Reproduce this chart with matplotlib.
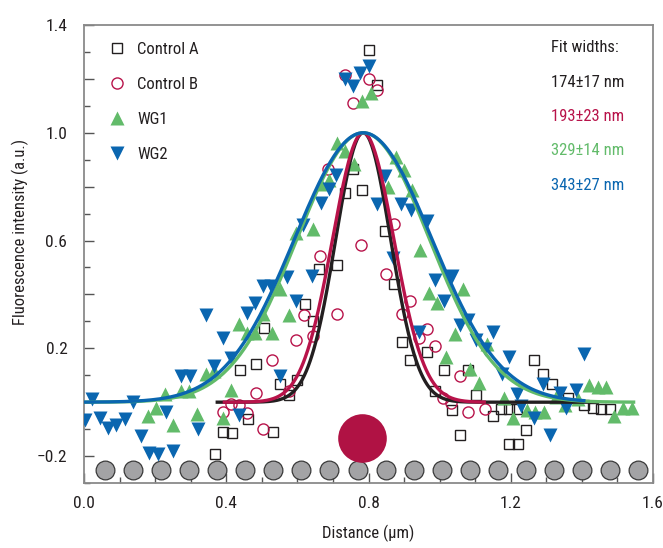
import numpy as np
import matplotlib
matplotlib.use('Agg')
import matplotlib.pyplot as plt
from matplotlib.lines import Line2D
from matplotlib.ticker import MultipleLocator

plt.rcParams['font.family'] = ['Roboto Condensed', 'Liberation Sans Narrow',
                               'Liberation Sans', 'DejaVu Sans']

# data (distance in um, intensity in a.u.)
ctrl_a_x = [0.369, 0.392, 0.415, 0.440, 0.461, 0.484, 0.505, 0.530, 0.551, 0.575,
            0.598, 0.620, 0.645, 0.662, 0.711, 0.734, 0.757, 0.781, 0.801, 0.825,
            0.846, 0.871, 0.894, 0.918, 0.965, 0.988, 1.011, 1.034, 1.056, 1.081,
            1.103, 1.150, 1.172, 1.195, 1.218, 1.243, 1.195, 1.219, 1.266, 1.291,
            1.315, 1.360, 1.406, 1.430, 1.454, 1.478]
ctrl_a_y = [-0.191, -0.110, -0.116, 0.121, -0.064, 0.141, 0.277, -0.110, 0.067, 0.026,
            0.084, 0.364, 0.303, 0.493, 0.509, 0.776, 0.867, 0.789, 1.307, 1.179,
            0.637, 0.438, 0.225, 0.156, 0.185, 0.043, 0.118, -0.030, -0.120, 0.119,
            0.025, -0.050, -0.025, -0.025, -0.025, -0.105, -0.155, -0.155, 0.157, 0.105,
            0.067, 0.016, -0.012, -0.020, -0.025, -0.027]

ctrl_b_x = [0.390, 0.413, 0.437, 0.459, 0.484, 0.504, 0.528, 0.575, 0.596, 0.619,
            0.644, 0.663, 0.687, 0.711, 0.734, 0.756, 0.780, 0.802, 0.825, 0.849,
            0.872, 0.894, 0.918, 0.941, 0.965, 0.986, 1.009, 1.032, 1.057, 1.080,
            1.127]
ctrl_b_y = [-0.037, -0.006, -0.010, -0.042, 0.034, -0.098, 0.158, 0.042, 0.229, 0.323,
            0.247, 0.542, 0.864, 0.328, 1.216, 1.111, 0.583, 1.201, 1.158, 0.477,
            0.662, 0.328, 0.374, 0.240, 0.272, 0.209, 0.016, -0.003, 0.097, -0.037,
            -0.027]

wg1_x = [0.180, 0.203, 0.227, 0.249, 0.272, 0.295, 0.319, 0.343, 0.366, 0.390,
         0.413, 0.435, 0.457, 0.481, 0.504, 0.528, 0.551, 0.575, 0.596, 0.644,
         0.667, 0.690, 0.712, 0.734, 0.760, 0.781, 0.806, 0.856, 0.877, 0.899,
         0.922, 0.944, 0.970, 0.993, 1.017, 1.043, 1.065, 1.085, 1.112, 1.133,
         1.180, 1.207, 1.245, 1.269, 1.293, 1.328, 1.352, 1.390, 1.420, 1.446,
         1.469, 1.490, 1.515, 1.540]
wg1_y = [-0.050, -0.022, 0.029, -0.084, 0.041, 0.041, -0.045, 0.104, 0.116, -0.060,
         0.047, 0.292, 0.255, 0.256, 0.328, 0.258, 0.421, 0.322, 0.627, 0.641,
         0.810, 0.825, 0.962, 0.934, 0.885, 1.117, 1.148, 0.797, 0.909, 0.862,
         0.789, 0.566, 0.406, 0.369, 0.167, 0.252, 0.419, 0.125, 0.070, 0.215,
         0.015, -0.060, -0.030, -0.035, -0.035, 0.020, -0.010, 0.012, 0.062, 0.055,
         0.058, -0.050, -0.020, -0.020]

wg2_x = [0.003, 0.022, 0.045, 0.068, 0.090, 0.114, 0.137, 0.160, 0.184, 0.207,
         0.230, 0.251, 0.274, 0.297, 0.321, 0.343, 0.366, 0.390, 0.413, 0.435,
         0.457, 0.481, 0.503, 0.527, 0.550, 0.572, 0.596, 0.615, 0.640, 0.666,
         0.688, 0.709, 0.734, 0.756, 0.776, 0.801, 0.824, 0.847, 0.869, 0.891,
         0.919, 0.941, 0.965, 0.988, 1.013, 1.034, 1.058, 1.080, 1.103, 1.128,
         1.151, 1.175, 1.195, 1.218, 1.230, 1.265, 1.290, 1.310, 1.337, 1.355,
         1.382, 1.405]
wg2_y = [-0.067, 0.010, -0.060, -0.095, -0.083, -0.063, 0.000, -0.126, -0.188, -0.194,
         -0.038, -0.182, 0.097, 0.097, -0.100, 0.324, 0.135, 0.237, 0.164, -0.046,
         0.330, 0.369, 0.432, 0.431, 0.097, 0.463, 0.375, 0.656, 0.468, 0.740,
         0.793, 0.845, 1.198, 1.173, 1.223, 1.248, 0.734, 0.839, 0.536, 0.734,
         0.715, 0.262, 0.672, 0.452, 0.375, 0.470, 0.287, 0.306, 0.231, 0.197,
         0.260, 0.105, 0.168, 0.029, -0.016, -0.060, 0.068, -0.120, 0.035, -0.023,
         0.047, 0.178]

# gaussian fits: centre, sigma, drawn range
fit_center = [0.785, 0.785, 0.785, 0.785]
fit_sigma = [0.077, 0.086, 0.186, 0.193]
fit_start = [0.37, 0.39, 0.0, 0.0]
fit_end = [1.42, 1.13, 1.55, 1.41]
fit_labels = ['174\u00b117 nm', '193\u00b123 nm', '329\u00b114 nm', '343\u00b127 nm']

series_names = ['Control A', 'Control B', 'WG1', 'WG2']
colors = ['#231f20', '#b8134a', '#62bb6a', '#0a66b0']

# beads along the bottom and the focal spot
bead_x = [0.058, 0.137, 0.216, 0.295, 0.374, 0.453, 0.532, 0.611, 0.690, 0.769,
          0.848, 0.927, 1.006, 1.085, 1.164, 1.243, 1.322, 1.401, 1.480, 1.559]
bead_y = [-0.25] * len(bead_x)
spot_x = [0.782]
spot_y = [-0.134]

fig = plt.figure(figsize=(6.63, 5.48), dpi=100)
ax = fig.add_axes([0.1267, 0.1186, 0.8583, 0.8358])

ax.plot(bead_x, bead_y, 'o', ms=13.5, mfc='#a3a3a5', mec='#3a3a3a', mew=0.9, zorder=2)
ax.plot(spot_x, spot_y, 'o', ms=35, mfc='#b01244', mec='none', zorder=2)

ax.plot(ctrl_a_x, ctrl_a_y, 's', ms=7.2, mfc='none', mec=colors[0], mew=1.0, zorder=3)
ax.plot(ctrl_b_x, ctrl_b_y, 'o', ms=8, mfc='none', mec=colors[1], mew=1.0, zorder=3)
ax.plot(wg1_x, wg1_y, '^', ms=9.5, color=colors[2], mec='none', zorder=3)
ax.plot(wg2_x, wg2_y, 'v', ms=9.5, color=colors[3], mec='none', zorder=3)

for c, s, x0, x1, col in zip(fit_center, fit_sigma, fit_start, fit_end, colors):
    xx = np.linspace(x0, x1, 400)
    ax.plot(xx, np.exp(-(xx - c) ** 2 / (2 * s ** 2)), color=col, lw=2.4,
            solid_capstyle='butt', zorder=4)

ax.set_xlim(0, 1.6)
ax.set_ylim(-0.3, 1.4)

ax.xaxis.set_minor_locator(MultipleLocator(0.1))
ax.yaxis.set_minor_locator(MultipleLocator(0.1))
ax.set_xticks(np.arange(0, 1.61, 0.2))
ax.set_xticklabels(['0.0', '', '0.4', '', '0.8', '', '1.2', '', '1.6'])
ax.set_yticks(np.arange(-0.2, 1.41, 0.2))
ax.set_yticklabels(['\u22120.2', '', '0.2', '', '0.6', '', '1.0', '', '1.4'])

ax.tick_params(which='both', direction='in', colors='#555555', labelcolor='#231f20',
               labelsize=12.5, top=False, right=False)
ax.tick_params(which='major', length=7, width=1)
ax.tick_params(which='minor', length=4, width=1)
ax.tick_params(axis='x', pad=9)
ax.tick_params(axis='y', pad=12)
for sp in ax.spines.values():
    sp.set_color('#8a8a8a')
    sp.set_linewidth(1.3)

ax.set_xlabel('Distance (\u03bcm)', fontsize=12, color='#231f20', labelpad=10)
ax.set_ylabel('Fluorescence intensity (a.u.)', fontsize=12, color='#231f20')
ax.yaxis.set_label_coords(-0.097, 0.548)

handles = [
    Line2D([], [], ls='none', marker='s', ms=7.2, mfc='none', mec=colors[0], mew=1.0),
    Line2D([], [], ls='none', marker='o', ms=8, mfc='none', mec=colors[1], mew=1.0),
    Line2D([], [], ls='none', marker='^', ms=9.5, color=colors[2], mec='none'),
    Line2D([], [], ls='none', marker='v', ms=9.5, color=colors[3], mec='none'),
]
leg = ax.legend(handles, series_names, loc='upper left', bbox_to_anchor=(0.044, 0.963),
                frameon=False, fontsize=12, labelspacing=1.2, handlelength=1.0,
                handletextpad=0.7, borderpad=0, borderaxespad=0)
for t in leg.get_texts():
    t.set_color('#231f20')

ax.text(0.821, 0.95, 'Fit widths:', transform=ax.transAxes, fontsize=12,
        color='#231f20', va='center', ha='left')
for i, (lab, col) in enumerate(zip(fit_labels, colors)):
    ax.text(0.821, 0.874 - i * 0.0745, lab, transform=ax.transAxes, fontsize=12,
            color=col, va='center', ha='left')

fig.savefig('out.png', dpi=100)
